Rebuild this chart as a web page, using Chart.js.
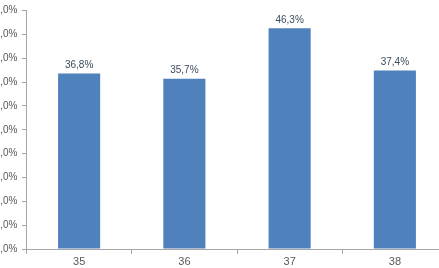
<!DOCTYPE html>
<html>
<head>
<meta charset="utf-8">
<script src="https://cdn.jsdelivr.net/npm/chart.js@4"></script>
<style>
  html, body { margin: 0; padding: 0; background: #fff; overflow: hidden; }
  #wrap { position: absolute; left: -20px; top: 0; width: 469px; height: 268px; }
</style>
</head>
<body>
<div id="wrap"><canvas id="chart"></canvas></div>
<script>
// dati
const categories = ['35', '36', '37', '38'];
const values = [36.8, 35.7, 46.3, 37.4];
const yTicks = [0, 5, 10, 15, 20, 25, 30, 35, 40, 45, 50];

const axisGray = '#A6A6A6';
const textGray = '#595959';
const fontFamily = '"Liberation Sans", Arial, sans-serif';

const fmt = v => v.toFixed(1).replace('.', ',') + '%';

// etichette sopra le barre
const valueLabels = {
  id: 'valueLabels',
  afterDatasetsDraw(chart) {
    const ctx = chart.ctx;
    ctx.save();
    ctx.font = '10px ' + fontFamily;
    ctx.fillStyle = '#3A4A5E';
    ctx.textAlign = 'center';
    ctx.textBaseline = 'bottom';
    chart.getDatasetMeta(0).data.forEach((bar, i) => {
      ctx.fillText(fmt(values[i]), bar.x, bar.y - 3);
    });
    ctx.restore();
  }
};

new Chart(document.getElementById('chart'), {
  type: 'bar',
  data: {
    labels: categories,
    datasets: [{
      data: values,
      backgroundColor: '#4F81BD',
      borderWidth: 0,
      categoryPercentage: 0.4,
      barPercentage: 1.0
    }]
  },
  options: {
    responsive: true,
    maintainAspectRatio: false,
    animation: false,
    layout: { padding: { top: 2.5, right: 1.5, bottom: 0, left: 0 } },
    plugins: { legend: { display: false }, tooltip: { enabled: false } },
    scales: {
      x: {
        grid: { offset: true, drawOnChartArea: false, tickLength: 5, color: axisGray },
        border: { color: axisGray },
        ticks: {
          color: textGray,
          padding: 1,
          font: { family: fontFamily, size: 11 }
        },
        afterFit: s => { s.height = 19; }
      },
      y: {
        min: 0,
        max: 50,
        afterBuildTicks: s => { s.ticks = yTicks.map(v => ({ value: v })); },
        grid: { drawOnChartArea: false, tickLength: 4.5, color: axisGray },
        border: { color: axisGray },
        ticks: {
          color: textGray,
          padding: 4.5,
          font: { family: fontFamily, size: 10 },
          callback: v => fmt(v)
        },
        afterFit: s => { s.width = 46.5; }
      }
    }
  },
  plugins: [valueLabels]
});
</script>
</body>
</html>
